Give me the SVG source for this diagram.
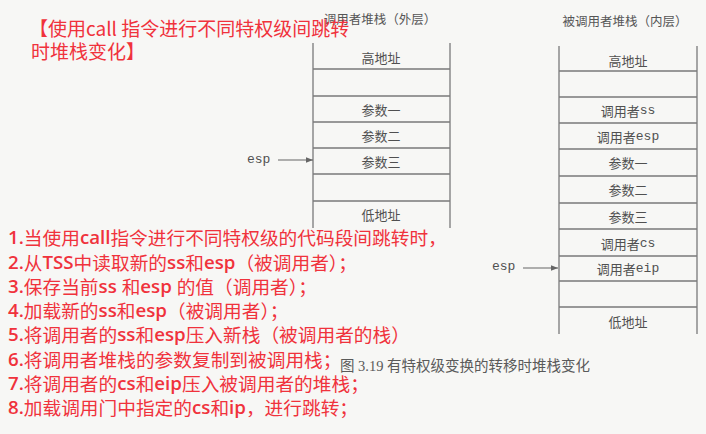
<svg xmlns="http://www.w3.org/2000/svg" width="706" height="434" viewBox="0 0 706 434">
<defs>
<style>
.bg{fill:#f7f7f5}
.frame{stroke:#7a7a7a;stroke-width:1.3;fill:none}
.lbl{font-family:"Noto Sans CJK SC","Liberation Sans",sans-serif;font-size:13px;fill:#505050;text-anchor:middle;dominant-baseline:central}
.mono{font-family:"Liberation Mono","DejaVu Sans Mono",monospace}
.ttl{font-family:"Noto Sans CJK SC","Liberation Sans",sans-serif;font-size:12.5px;fill:#555;text-anchor:middle;dominant-baseline:central}
.esp{font-family:"Liberation Mono","DejaVu Sans Mono",monospace;font-size:13px;fill:#505050;dominant-baseline:central}
.red{font-family:"Noto Sans CJK SC","Liberation Sans",sans-serif;font-size:18.7px;fill:#f0323c;dominant-baseline:central}
.big{font-size:19px}
.lat{font-family:"Open Sans","Liberation Sans",sans-serif;font-weight:600}
.cap{font-family:"Liberation Serif","Noto Sans CJK SC",serif;font-size:14.5px;fill:#5a5a5a;dominant-baseline:central}
.arr{stroke:#666;stroke-width:1.1;fill:none}
</style>
<marker id="ah" viewBox="0 0 10 10" refX="10" refY="5" markerWidth="7" markerHeight="7" orient="auto" markerUnits="userSpaceOnUse">
<path d="M0,1 L10,5 L0,9 Z" fill="#666"/>
</marker>
</defs>
<rect class="bg" x="0" y="0" width="706" height="434"/>

<g id="caller-stack">
<text class="ttl" x="380" y="18">调用者堆栈（外层）</text>
<path class="frame" d="M313,43 V228 M450,43 V228 M313,69 H450 M313,96 H450 M313,122 H450 M313,148 H450 M313,174 H450 M313,201 H450"/>
<text class="lbl" x="381" y="57">高地址</text>
<text class="lbl" x="381" y="109">参数一</text>
<text class="lbl" x="381" y="135">参数二</text>
<text class="lbl" x="381" y="161">参数三</text>
<text class="lbl" x="381" y="214">低地址</text>
</g>

<g id="callee-stack">
<text class="ttl" x="625" y="20">被调用者堆栈（内层）</text>
<path class="frame" d="M559,46 V334 M697,46 V334 M559,71 H697 M559,97 H697 M559,123 H697 M559,149 H697 M559,176 H697 M559,203 H697 M559,229 H697 M559,256 H697 M559,281 H697 M559,307 H697"/>
<text class="lbl" x="628" y="60">高地址</text>
<text class="lbl" x="628" y="110">调用者<tspan class="mono">ss</tspan></text>
<text class="lbl" x="628" y="136">调用者<tspan class="mono">esp</tspan></text>
<text class="lbl" x="628" y="162">参数一</text>
<text class="lbl" x="628" y="189">参数二</text>
<text class="lbl" x="628" y="216">参数三</text>
<text class="lbl" x="628" y="243">调用者<tspan class="mono">cs</tspan></text>
<text class="lbl" x="628" y="268">调用者<tspan class="mono">eip</tspan></text>
<text class="lbl" x="628" y="321">低地址</text>
</g>

<g id="esp-labels">
<text class="esp" x="247" y="159">esp</text>
<text class="esp" x="492" y="266">esp</text>
</g>

<g id="connectors">
<line class="arr" x1="278" y1="160" x2="313" y2="160" marker-end="url(#ah)"/>
<line class="arr" x1="523" y1="268" x2="558" y2="268" marker-end="url(#ah)"/>
</g>

<g id="title">
<text class="red big" x="29" y="27">【使用call 指令进行不同特权级间跳转</text>
<text class="red big" x="31" y="50">时堆栈变化】</text>
</g>

<g id="steps">
<text class="red" x="8" y="236"><tspan class="lat">1.</tspan>当使用<tspan class="lat">call</tspan>指令进行不同特权级的代码段间跳转时，</text>
<text class="red" x="8" y="261"><tspan class="lat">2.</tspan>从<tspan class="lat">TSS</tspan>中读取新的<tspan class="lat">ss</tspan>和<tspan class="lat">esp</tspan>（被调用者）；</text>
<text class="red" x="8" y="285"><tspan class="lat">3.</tspan>保存当前<tspan class="lat">ss </tspan>和<tspan class="lat">esp </tspan>的值（调用者）；</text>
<text class="red" x="8" y="309"><tspan class="lat">4.</tspan>加载新的<tspan class="lat">ss</tspan>和<tspan class="lat">esp</tspan>（被调用者）；</text>
<text class="red" x="8" y="333"><tspan class="lat">5.</tspan>将调用者的<tspan class="lat">ss</tspan>和<tspan class="lat">esp</tspan>压入新栈（被调用者的栈）</text>
<text class="red" x="8" y="358"><tspan class="lat">6.</tspan>将调用者堆栈的参数复制到被调用栈；</text>
<text class="red" x="8" y="382"><tspan class="lat">7.</tspan>将调用者的<tspan class="lat">cs</tspan>和<tspan class="lat">eip</tspan>压入被调用者的堆栈；</text>
<text class="red" x="8" y="406"><tspan class="lat">8.</tspan>加载调用门中指定的<tspan class="lat">cs</tspan>和<tspan class="lat">ip</tspan>，进行跳转；</text>
</g>

<g id="caption">
<text class="cap" x="340" y="366">图 3.19 有特权级变换的转移时堆栈变化</text>
</g>
</svg>
